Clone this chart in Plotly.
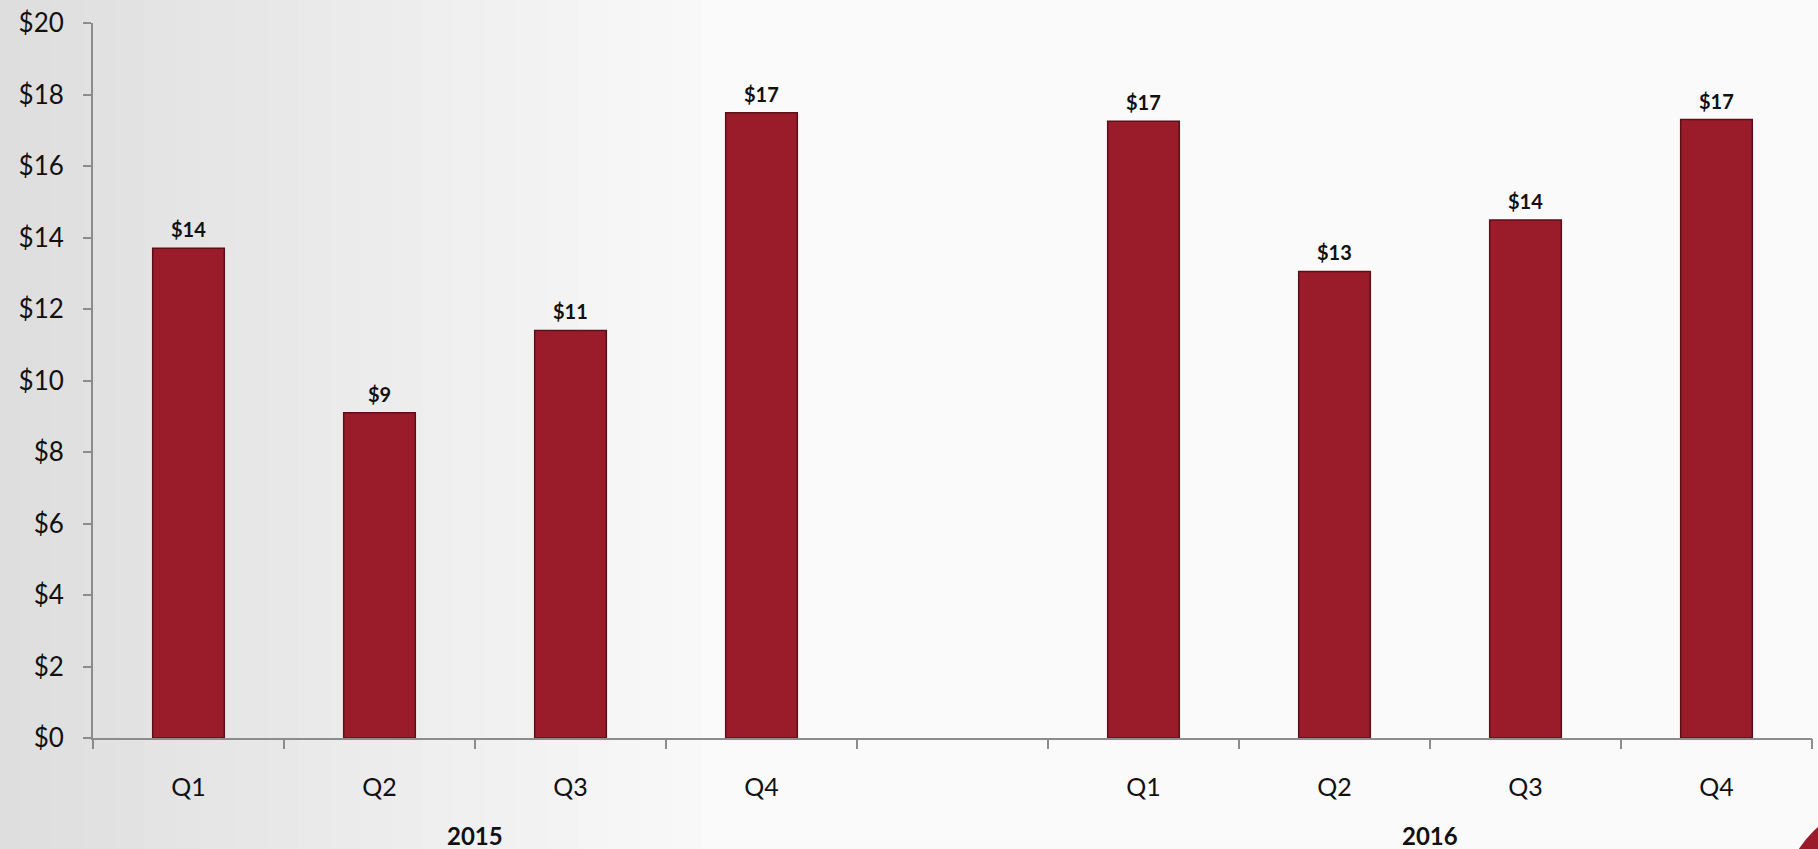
import plotly.graph_objects as go

# Quarterly figures ($) by year
years = ["2015", "2016"]
quarters = ["Q1", "Q2", "Q3", "Q4"]
values_2015 = [13.7, 9.1, 11.4, 17.49]
values_2016 = [17.25, 13.05, 14.49, 17.3]
y_ticks = [0, 2, 4, 6, 8, 10, 12, 14, 16, 18, 20]

BAR = "#9a1c2b"
AXIS = "#8c8c8c"
FONT = "Lato, 'Open Sans', sans-serif"

# Category slots: four quarters, an empty spacer slot, four quarters
pos_2015 = list(range(len(quarters)))
pos_2016 = [len(quarters) + 1 + i for i in range(len(quarters))]
n_slots = len(quarters) * 2 + 1
centers = pos_2015 + pos_2016
boundaries = [i - 0.5 for i in range(n_slots + 1)]
x_range = [-0.5, n_slots - 0.5]

fig = go.Figure()
for pos, vals in ((pos_2015, values_2015), (pos_2016, values_2016)):
    fig.add_trace(go.Bar(
        x=pos, y=vals, width=0.375,
        marker=dict(color=BAR, line=dict(color="#5c0f18", width=1.5)),
        showlegend=False, hoverinfo="skip",
    ))
    # Value labels sitting just above each bar
    for p, v in zip(pos, vals):
        fig.add_annotation(x=p, y=v, xref="x", yref="y", yanchor="bottom",
                           yshift=5, showarrow=False, text=f"${v:.0f}",
                           font=dict(family=FONT, size=20, color="#111111",
                                     weight="bold"))

# Overlay axis carrying the tick marks at category boundaries
fig.add_trace(go.Scatter(x=[], y=[], xaxis="x2", showlegend=False))

# Soft grey shading on the left of the backdrop
steps = 24
for i in range(steps):
    t = i / (steps - 1)
    g = int(222 + (250 - 222) * t)
    fig.add_shape(type="rect", xref="paper", yref="paper",
                  x0=-0.06 + i * 0.018, x1=-0.06 + (i + 1) * 0.018 + 0.001,
                  y0=-0.2, y1=1.05, layer="below", line=dict(width=0),
                  fillcolor=f"rgb({g},{g},{g})")

# Corner emblem
fig.add_shape(type="circle", xref="paper", yref="paper",
              x0=0.984, x1=1.095, y0=-0.357, y1=-0.093,
              fillcolor=BAR, line=dict(width=0), layer="above")

for year, pos in zip(years, (pos_2015, pos_2016)):
    fig.add_annotation(x=(pos[0] + pos[-1]) / 2, y=0, xref="x", yref="paper",
                       yshift=-97, yanchor="middle", showarrow=False, text=year,
                       font=dict(family=FONT, size=24, color="#111111", weight="bold"))

fig.update_layout(
    width=1818, height=849,
    margin=dict(l=93, r=6, t=17, b=111),
    paper_bgcolor="#fafafa", plot_bgcolor="rgba(0,0,0,0)",
    bargap=0.6,
    xaxis=dict(range=x_range, tickvals=centers, ticktext=quarters * 2,
               ticks="", showline=True, linecolor=AXIS, linewidth=2,
               showgrid=False, zeroline=False, ticklabelstandoff=26,
               tickfont=dict(family=FONT, size=25, color="#111111")),
    xaxis2=dict(range=x_range, overlaying="x", anchor="y", side="bottom",
                tickvals=boundaries, ticks="outside", ticklen=10, tickwidth=2,
                tickcolor=AXIS, showticklabels=False, showgrid=False,
                zeroline=False, showline=False),
    yaxis=dict(range=[0, 20], tickvals=y_ticks,
               ticktext=[f"${v}" for v in y_ticks],
               ticks="outside", ticklen=8, tickwidth=2, tickcolor=AXIS,
               showline=True, linecolor=AXIS, linewidth=2,
               showgrid=False, zeroline=False, ticklabelstandoff=14,
               tickfont=dict(family=FONT, size=26, color="#111111")),
)

fig.write_html("out.html")
